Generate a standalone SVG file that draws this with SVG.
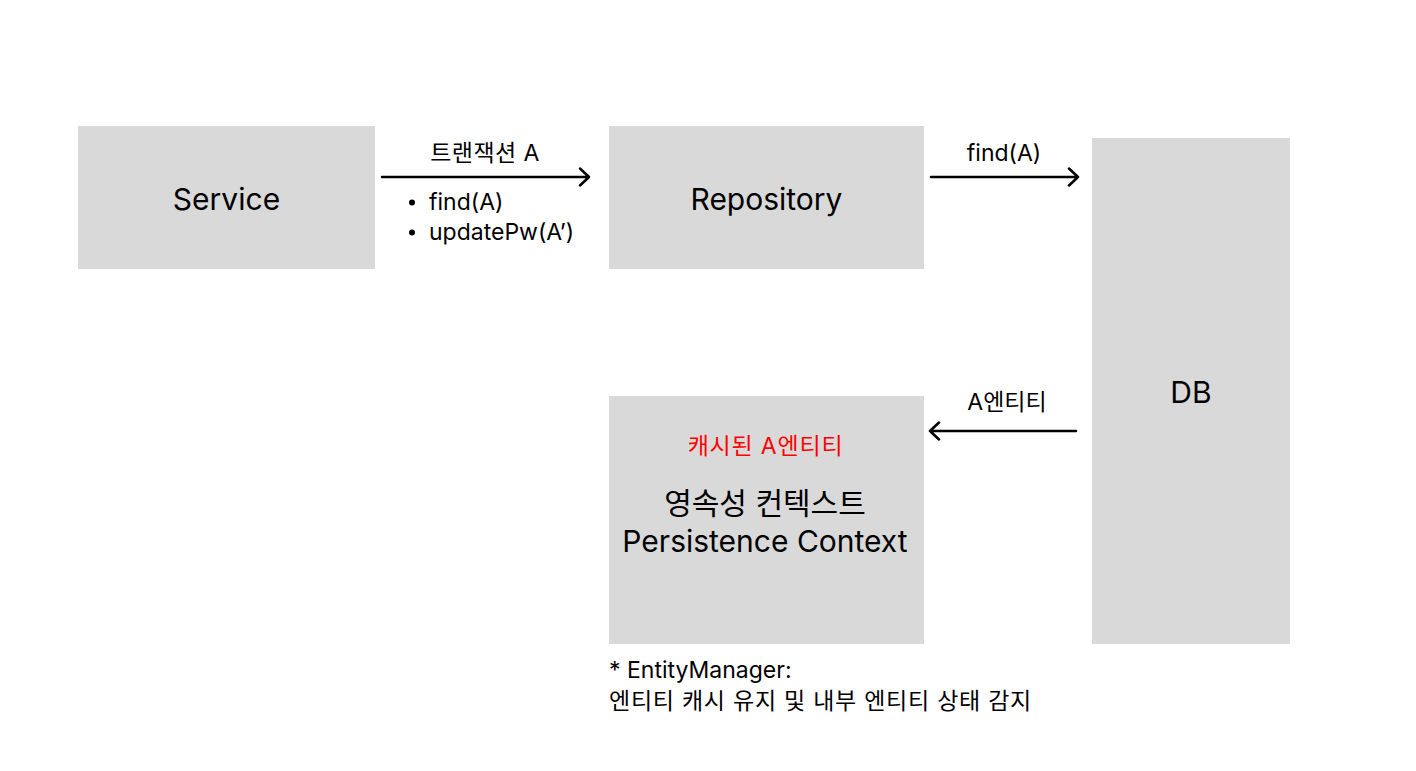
<svg xmlns="http://www.w3.org/2000/svg" width="1416" height="771" viewBox="0 0 1416 771">
<style>
.box{fill:#d9d9d9}
.t{font-family:Inter,"Noto Sans CJK KR","Noto Sans",sans-serif;fill:#000}
.big{font-size:30px}
.sm{font-size:23px}
.ln{stroke:#000;stroke-width:2.5;fill:none;stroke-linecap:round;stroke-linejoin:round}
</style>
<rect width="1416" height="771" fill="#fff"/>
<g id="service"><rect class="box" x="78" y="126" width="297" height="143"/><text class="t big" x="226.5" y="210" text-anchor="middle">Service</text></g>
<g id="repository"><rect class="box" x="609" y="126" width="315" height="143"/><text class="t big" x="766.5" y="210" text-anchor="middle">Repository</text></g>
<g id="db"><rect class="box" x="1092" y="138" width="198" height="506"/><text class="t big" x="1191" y="403" text-anchor="middle">DB</text></g>
<g id="persistence-context"><rect class="box" x="609" y="396" width="315" height="248"/>
<text class="t sm" x="765.5" y="454" text-anchor="middle" letter-spacing="0.8" style="fill:#ff0000">캐시된 A엔티티</text>
<text class="t big" x="765" y="514" text-anchor="middle">영속성 컨텍스트</text>
<text class="t big" x="765" y="552" text-anchor="middle">Persistence Context</text></g>
<g id="connectors">
<path class="ln" d="M382 177H589M580 168.5L589 177L580 185.5"/>
<path class="ln" d="M931 177H1078M1069 168.5L1078 177L1069 185.5"/>
<path class="ln" d="M1076 431H930M939 422.5L930 431L939 439.5"/>
<text class="t sm" x="485" y="161" text-anchor="middle" letter-spacing="0.4">트랜잭션 A</text>
<circle cx="412" cy="202.5" r="3"/>
<text class="t sm" x="429" y="210">find(A)</text>
<circle cx="412" cy="232.5" r="3"/>
<text class="t sm" x="429" y="240">updatePw(A’)</text>
<text class="t sm" x="1004" y="161" text-anchor="middle">find(A)</text>
<text class="t sm" x="1007" y="410" text-anchor="middle">A엔티티</text>
</g>
<g id="note">
<text class="t sm" x="609" y="678">* EntityManager:</text>
<text class="t sm" x="609" y="709" letter-spacing="0.75">엔티티 캐시 유지 및 내부 엔티티 상태 감지</text>
</g>
</svg>
